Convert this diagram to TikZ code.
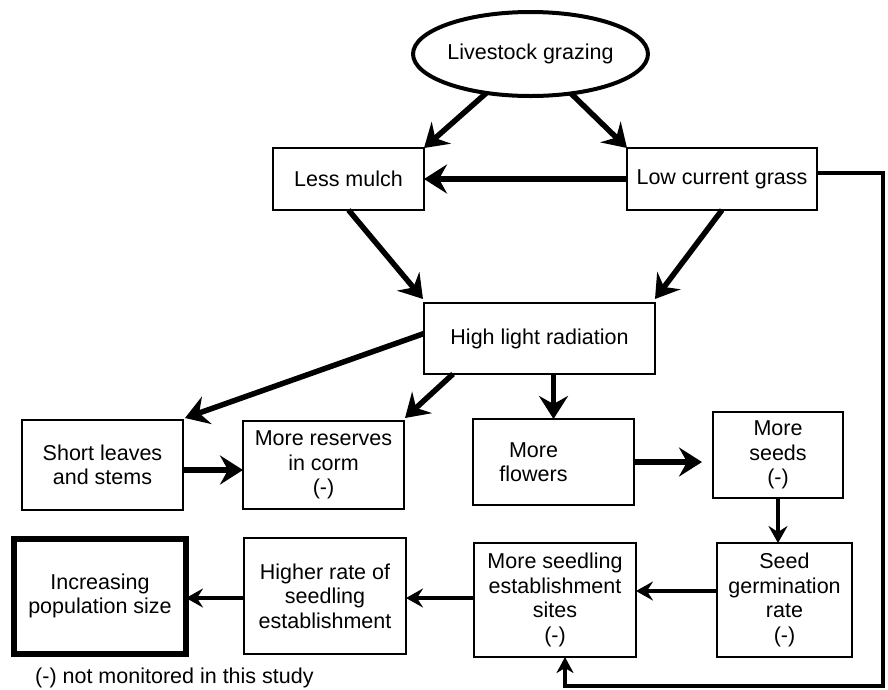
\documentclass[tikz,border=0pt]{standalone}
\usepackage{fontspec}
\setmainfont{Liberation Sans}
\usetikzlibrary{positioning}
\usetikzlibrary{arrows.meta}
\usetikzlibrary{shapes.geometric}
\newcommand{\Dash}{(-)}
\tikzstyle{box} = [rectangle, draw=black, line width=1.5pt, inner sep=0pt, outer sep=0pt, align=center, font=\fontsize{21.5}{24.5}\selectfont]
\tikzstyle{cause} = [ellipse, draw=black, line width=4pt, inner sep=0pt, outer sep=0pt, font=\fontsize{21.5}{24.5}\selectfont]
\tikzstyle{goal} = [box, line width=6pt]
\tikzstyle{arrL} = [-{Stealth[length=23pt, width=29pt, inset=8pt]}, line width=5.5pt]
\tikzstyle{arrS} = [-{Stealth[length=17pt, width=19pt, inset=6pt]}, line width=4pt]
\tikzstyle{feedback} = [-{Stealth[length=16pt, width=17pt, inset=5pt]}, line width=3.5pt]

\begin{document}
\begin{tikzpicture}[x=1pt, y=-1pt]
\useasboundingbox (0,0) rectangle (888,689);

% Define nodes
\node[cause, minimum width=231pt, minimum height=84pt]               (graze)   at (530.5,54) {Livestock grazing};
\node[box, minimum width=151pt, minimum height=62pt]                 (mulch)   at (348.5,179) {Less mulch};
\node[box, minimum width=190pt, minimum height=62pt, right = 203pt of mulch] (grass) {Low current grass};
\node[box, minimum width=231pt, minimum height=71pt]                 (light)   at (539.5,338.5) {High light radiation};

\node[box, minimum width=161pt, minimum height=90pt]                 (leaves)  at (102.5,465) {Short leaves\\and stems};
\node[box, minimum width=161pt, minimum height=88pt, right = 60pt of leaves] (corm) {More reserves\\in corm\\\Dash};
\node[box, minimum width=161pt, minimum height=86pt,
      label={[align=center, xshift=-20pt, font=\fontsize{21.5}{24.5}\selectfont]center:More\\flowers}] (flowers) at (553.5,462) {};
\node[box, minimum width=130pt, minimum height=86pt, right = 79pt of flowers, yshift = 7pt] (seeds) {More\\seeds\\\Dash};

\node[box, minimum width=135pt, minimum height=114pt, below = 45pt of seeds, xshift = 6.5pt] (germ) {Seed\\germination\\rate\\\Dash};
\node[box, minimum width=162pt, minimum height=114pt, left = 81pt of germ]  (sites)  {More seedling\\establishment\\sites\\\Dash};
\node[box, minimum width=162pt, minimum height=116pt, left = 68pt of sites, yshift = 4pt] (higher) {Higher rate of\\seedling\\establishment};
\node[goal, minimum width=172pt, minimum height=115pt, left = 58pt of higher] (popn) {Increasing\\population size};

\node[anchor=base west, inner sep=0pt, font=\fontsize{21.5}{24.5}\selectfont] (note) at (35,683) {\Dash{} not monitored in this study};

\coordinate (corner) at (883,686);

% Edges
\draw[arrL] (graze) -- (mulch.north east);
\draw[arrL] (graze) -- (grass.north west);
\draw[arrL] (grass.west) -- (mulch.east);
\draw[arrL] (mulch.south) -- ([shift={(-1pt,4pt)}]light.north west);
\draw[arrL] (grass.south) -- ([shift={(0pt,4pt)}]light.north east);

\draw[arrL] ([yshift=5pt]light.west) -- ([shift={(2pt,2pt)}]leaves.north east);
\draw[arrL] ([xshift=29pt]light.south west) -- ([shift={(1pt,3pt)}]corm.north east);
\draw[arrL] (light.south -| flowers) -- (flowers.north);
\draw[arrL] ([yshift=-5pt]leaves.east) -- ([yshift=-5pt]leaves.east -| corm.west);
\draw[arrL, shorten >=11pt] (flowers.east) -- (flowers.east -| seeds.west);
\draw[arrS] (seeds.south) -- (seeds.south |- germ.north);

\draw[arrS] ([yshift=9pt]germ.west) -- ([yshift=9pt]germ.west -| sites.east);
\draw[arrS] ([yshift=2pt]sites.west) -- ([yshift=2pt]sites.west -| higher.east);
\draw[arrS] ([yshift=-2pt]higher.west) -- ([yshift=-2pt]higher.west -| popn.east);

\draw[feedback] ([yshift=6pt]grass.east) -| (corner) -| ([xshift=10pt]sites.south);

\end{tikzpicture}
\end{document}
